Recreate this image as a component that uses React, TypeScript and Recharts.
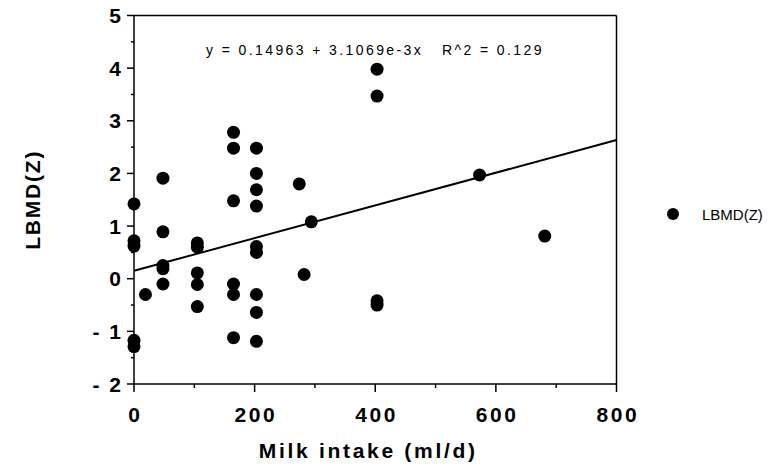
import React from 'react';
import { ScatterChart, Scatter, XAxis, YAxis, ReferenceLine, Legend } from 'recharts';

// Milk intake (ml/d) of each subject, paired with LBMD(Z)
const milkIntake = [
  0, 0, 0, 0, 0,
  19,
  48, 48, 48, 48, 48,
  105, 105, 105, 105, 105,
  165, 165, 165, 165, 165, 165,
  203, 203, 203, 203, 203, 203, 203, 203, 203,
  274, 282, 294,
  403, 403, 403, 403,
  573, 681,
];
const lbmdZ = [
  1.42, 0.72, 0.62, -1.17, -1.29,
  -0.3,
  1.91, 0.89, 0.25, 0.19, -0.1,
  0.68, 0.6, 0.11, -0.11, -0.53,
  2.78, 2.48, 1.48, -0.1, -0.3, -1.12,
  2.48, 2.0, 1.69, 1.38, 0.61, 0.5, -0.3, -0.64, -1.19,
  1.8, 0.08, 1.08,
  3.98, 3.47, -0.42, -0.5,
  1.97, 0.81,
];

const xTicks = [0, 100, 200, 300, 400, 500, 600, 700, 800];
const xMajor = [0, 200, 400, 600, 800];
const yTicks = [-2, -1.5, -1, -0.5, 0, 0.5, 1, 1.5, 2, 2.5, 3, 3.5, 4, 4.5, 5];
const yMajor = [-2, -1, 0, 1, 2, 3, 4, 5];

const INTERCEPT = 0.14963;
const SLOPE = 3.1069e-3;
const X_MIN = 0;
const X_MAX = 800;
const Y_MIN = -2;
const Y_MAX = 5;

const SERIES_NAME = 'LBMD(Z)';
const X_TITLE = 'Milk intake (ml/d)';
const EQUATION = 'y = 0.14963 + 3.1069e-3x';
const R2_TEXT = 'R^2 = 0.129';

const points = milkIntake.map((x, i) => ({ x, y: lbmdZ[i] }));
const FONT = '"Liberation Sans", Arial, Helvetica, sans-serif';

const XTick = (props: any) => {
  const { x, y, payload } = props;
  const v = payload.value;
  const major = xMajor.includes(v);
  return (
    <g>
      <line x1={x} x2={x} y1={y} y2={y + (major ? 8 : 4)} stroke="#000" strokeWidth={1.5} />
      {major && (
        <text x={x + 1.3} y={y + 38} textAnchor="middle" fontFamily={FONT} fontWeight="bold" fontSize={21} letterSpacing={2.6} fill="#000">
          {v}
        </text>
      )}
    </g>
  );
};

const YTick = (props: any) => {
  const { x, y, payload } = props;
  const v = payload.value;
  const major = yMajor.includes(v);
  return (
    <g>
      <line x1={x - (major ? 7 : 3)} x2={x} y1={y} y2={y} stroke="#000" strokeWidth={1.5} />
      {major && (
        <text x={x - 11} y={y + 7.5} textAnchor="end" fontFamily={FONT} fontWeight="bold" fontSize={21} letterSpacing={2} fill="#000">
          {v < 0 ? '- ' + Math.abs(v) : String(v)}
        </text>
      )}
    </g>
  );
};

const renderXLabel = (props: any) => {
  const vb = props.viewBox;
  return (
    <text x={vb.x + vb.width / 2 - 7} y={vb.y + 74} textAnchor="middle" fontFamily={FONT} fontWeight="bold" fontSize={21} letterSpacing={2.7} fill="#000">
      {X_TITLE}
    </text>
  );
};

const renderYLabel = (props: any) => {
  const vb = props.viewBox;
  const cx = vb.x + 32;
  const cy = vb.y + vb.height / 2;
  return (
    <text x={cx} y={cy} transform={`rotate(-90 ${cx} ${cy})`} textAnchor="middle" dominantBaseline="central" fontFamily={FONT} fontWeight="bold" fontSize={21} letterSpacing={1.8} fill="#000">
      {SERIES_NAME}
    </text>
  );
};

const renderDot = (props: any) => <circle cx={props.cx} cy={props.cy} r={6.5} fill="#000" />;

const renderLegend = () => (
  <div style={{ display: 'flex', alignItems: 'center', height: 20, fontFamily: FONT, fontSize: 15, color: '#000', whiteSpace: 'nowrap' }}>
    <svg width={14} height={14} style={{ flex: 'none' }}>
      <circle cx={7} cy={7} r={6} fill="#000" />
    </svg>
    <span style={{ marginLeft: 22 }}>{SERIES_NAME}</span>
  </div>
);

export default function App() {
  return (
    <div style={{ position: 'relative', width: 772, height: 475, marginLeft: -8, marginTop: -8 }}>
      <ScatterChart width={772} height={475} margin={{ top: 15.5, right: 155.5, bottom: 0, left: 0 }}>
        <XAxis
          dataKey="x"
          type="number"
          domain={[X_MIN, X_MAX]}
          ticks={xTicks}
          interval={0}
          height={91}
          tickSize={0}
          tickMargin={0}
          tickLine={false}
          axisLine={{ stroke: '#000', strokeWidth: 1.5 }}
          tick={<XTick />}
          label={{ value: X_TITLE, content: renderXLabel }}
        />
        <YAxis
          dataKey="y"
          type="number"
          domain={[Y_MIN, Y_MAX]}
          ticks={yTicks}
          interval={0}
          width={134}
          tickSize={0}
          tickMargin={0}
          tickLine={false}
          axisLine={{ stroke: '#000', strokeWidth: 1.5 }}
          tick={<YTick />}
          label={{ value: SERIES_NAME, content: renderYLabel }}
        />
        <ReferenceLine y={Y_MAX} stroke="#000" strokeWidth={1.5} />
        <ReferenceLine x={X_MAX} stroke="#000" strokeWidth={1.5} />
        <ReferenceLine
          segment={[
            { x: X_MIN, y: INTERCEPT + SLOPE * X_MIN },
            { x: X_MAX, y: INTERCEPT + SLOPE * X_MAX },
          ]}
          stroke="#000"
          strokeWidth={2}
        />
        <Scatter name={SERIES_NAME} data={points} fill="#000" shape={renderDot} isAnimationActive={false} />
        <Legend
          layout="horizontal"
          align="center"
          verticalAlign="middle"
          content={renderLegend}
          wrapperStyle={{ left: 666, top: 204, width: 104 }}
        />
      </ScatterChart>
      <svg width={772} height={475} style={{ position: 'absolute', left: 0, top: 0, pointerEvents: 'none' }}>
        <text x={206} y={55} fontFamily={FONT} fontSize={14} letterSpacing={2.4} fill="#000">{EQUATION}</text>
        <text x={442} y={55} fontFamily={FONT} fontSize={14} letterSpacing={2.4} fill="#000">{R2_TEXT}</text>
      </svg>
    </div>
  );
}
